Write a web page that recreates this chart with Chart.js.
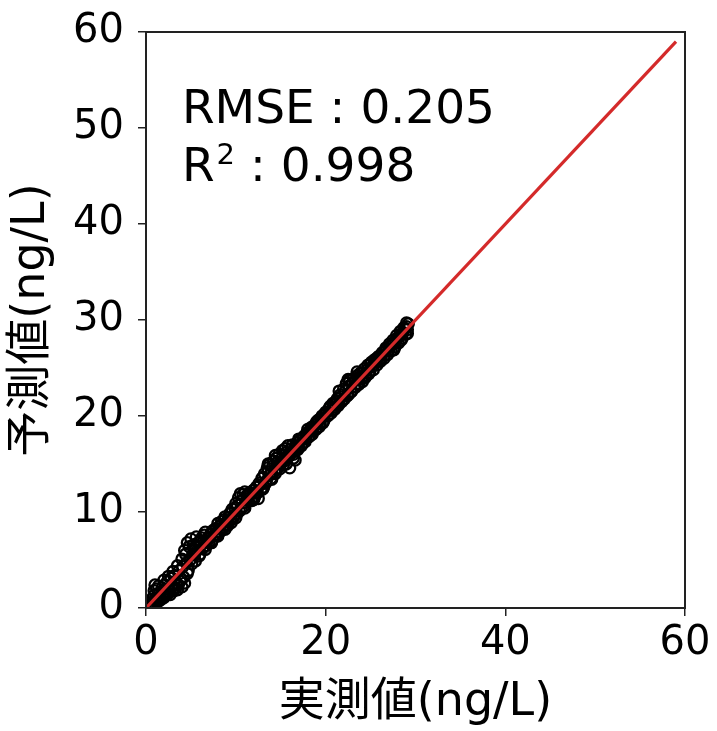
<!DOCTYPE html>
<html>
<head>
    <meta charset="utf-8">
    <title>予測値 vs 実測値</title>
    <script src="https://cdn.jsdelivr.net/npm/chart.js@4.4.1/dist/chart.umd.min.js"></script>
    <style>
        html, body { margin: 0; padding: 0; background: #fff; }
        #wrap { width: 717px; height: 731px; }
    </style>
</head>
<body>
<div id="wrap">
    <canvas id="grafico" width="717" height="731"></canvas>
</div>

<script>
    // 実測値 / 予測値 のペア
    var jissoku = [
        0.2, 0.3, 0.5, 0.6, 0.8, 0.9, 1.0, 1.1, 1.2, 1.3, 1.5, 1.6, 1.8, 1.9, 2.0,
        2.1, 2.3, 2.4, 2.6, 2.8, 2.9, 3.1, 3.2, 3.4, 3.5, 3.7, 3.8, 4.0, 4.1, 4.2, 4.4, 4.5, 4.6, 4.8, 4.9,
        5.0, 5.1, 5.3, 5.4, 5.6, 5.7, 5.9, 6.0, 6.2, 6.3, 6.5, 6.7, 6.9, 7.0, 7.2, 7.4, 7.6, 7.8, 7.9,
        8.1, 8.3, 8.5, 8.7, 8.9, 9.1, 9.3, 9.5, 9.6, 9.8, 10.0, 10.1, 10.3, 10.5, 10.6, 10.8, 11.0, 11.1, 11.3, 11.5, 11.7, 11.9, 12.1, 12.3, 12.5, 12.7,
        12.9, 13.1, 13.2, 13.4, 13.5, 13.7, 13.8, 14.0, 14.2, 14.3, 14.5, 14.7, 14.8, 15.0, 15.2, 15.3, 15.5, 15.7, 15.8, 16.0, 16.1, 16.3, 16.5, 16.6, 16.8, 17.0,
        17.2, 17.4, 17.6, 17.8, 18.0, 18.2, 18.4, 18.6, 18.8, 19.0, 19.2, 19.4, 19.6, 19.8, 20.0, 20.2, 20.4, 20.6, 20.8, 21.0,
        21.2, 21.4, 21.6, 21.8, 22.0, 22.1, 22.3, 22.5, 22.7, 22.9, 23.1, 23.3, 23.5, 23.7, 23.9, 24.1, 24.3, 24.5, 24.7, 24.9, 25.1, 25.3, 25.5, 25.7, 25.9,
        26.1, 26.3, 26.5, 26.7, 26.9, 27.1, 27.3, 27.5, 27.7, 27.9, 28.1, 28.3, 28.5, 28.7, 28.9, 29.0, 29.1,
        0.4, 0.7, 1.0, 1.4, 1.7, 2.2, 2.5, 2.7, 3.0, 3.3, 3.6, 3.9, 4.3, 4.7, 0.9, 1.4, 2.0, 2.5, 3.0, 3.5, 4.0, 4.3, 4.6,
        5.2, 5.5, 5.8, 6.1, 6.4, 6.6, 6.8, 7.1, 7.3, 7.5, 7.7, 8.0, 8.2, 8.4, 8.6, 8.8, 9.0, 9.2, 9.4, 9.7, 9.9, 5.5, 6.0, 6.6, 7.3, 8.0, 8.8, 9.5,
        10.2, 10.4, 10.7, 10.9, 11.2, 11.4, 11.6, 11.8, 12.0, 12.2, 12.4, 12.6, 12.8, 13.0, 13.3, 13.6, 13.9, 14.1, 14.4, 14.6, 14.9, 10.0, 11.0, 12.0, 13.0, 14.0, 13.6, 14.4,
        15.1, 15.4, 15.6, 15.9, 16.2, 16.4, 16.7, 16.9, 17.1, 17.3, 17.5, 17.7, 17.9, 18.1, 18.3, 18.5, 18.7, 18.9, 19.1, 19.3, 19.5, 19.7, 19.9, 15.6, 16.4, 17.0, 18.0, 19.0,
        20.1, 20.3, 20.5, 20.7, 20.9, 21.1, 21.3, 21.5, 21.7, 21.9, 22.2, 22.4, 22.6, 22.8, 23.0, 23.2, 23.4, 23.6, 23.8, 24.0, 24.2, 24.4, 24.6, 24.8, 25.0, 21.5, 22.5, 23.5,
        25.2, 25.4, 25.6, 25.8, 26.0, 26.2, 26.4, 26.6, 26.8, 27.0, 27.2, 27.4, 27.6, 27.8, 28.0, 28.2, 28.4, 28.6, 28.8, 29.0, 27.6, 28.4, 29.2, 29.1
    ];
    var yosoku = [
        0.1, 0.5, 0.4, 0.9, 0.6, 1.3, 2.4, 1.0, 2.0, 0.8, 1.6, 1.2, 2.1, 1.5, 1.1,
        2.4, 1.7, 2.8, 1.9, 3.1, 2.2, 1.8, 3.4, 2.6, 1.9, 3.9, 2.8, 2.2, 4.3, 3.2, 5.6, 4.7, 3.6, 6.4, 5.0,
        7.2, 4.6, 6.6, 5.5, 7.4, 6.0, 5.4, 6.9, 7.3, 6.2, 7.6, 6.5, 7.3, 6.8, 7.7, 7.1, 7.5, 8.3, 7.6,
        8.0, 8.6, 8.2, 9.2, 8.7, 8.6, 9.8, 9.2, 10.3, 9.6, 10.9, 9.8, 11.5, 11.9, 10.4, 11.8, 12.1, 11.0, 11.4, 12.0, 11.3, 12.2, 11.6, 12.6, 11.4, 12.8,
        13.5, 12.6, 14.0, 13.2, 14.6, 13.8, 15.0, 14.1, 15.3, 14.2, 15.6, 14.6, 16.0, 15.1, 16.4, 14.9, 16.6, 15.6, 16.9, 14.6, 16.2, 17.0, 16.3, 15.4, 17.2, 16.7,
        17.5, 17.1, 17.9, 17.6, 18.3, 17.9, 18.8, 18.4, 19.1, 18.7, 19.6, 19.2, 20.0, 19.5, 20.4, 20.0, 20.8, 20.3, 21.3, 20.7,
        21.6, 21.1, 22.2, 21.5, 22.8, 21.8, 23.4, 22.2, 23.7, 22.6, 23.9, 23.0, 24.2, 23.3, 24.5, 23.6, 24.9, 24.2, 25.3, 24.6, 25.6, 24.8, 25.9, 25.3, 26.2,
        25.7, 26.6, 26.0, 27.1, 26.4, 27.5, 26.8, 27.9, 27.2, 28.4, 27.6, 28.8, 28.1, 29.2, 28.5, 29.7, 29.0,
        0.0, 0.2, 0.4, 0.7, 0.9, 1.3, 1.5, 1.4, 2.0, 2.1, 2.4, 3.0, 2.6, 3.9, 1.8, 2.3, 2.9, 3.3, 3.8, 4.4, 5.1, 6.0, 6.8,
        5.6, 6.4, 6.8, 6.5, 7.0, 7.9, 7.0, 7.3, 7.9, 8.1, 7.6, 8.8, 7.9, 9.0, 8.4, 9.5, 9.0, 9.4, 9.9, 9.4, 10.4, 4.9, 5.6, 6.1, 6.8, 7.5, 8.2, 8.9,
        10.7, 10.1, 11.2, 10.6, 11.7, 11.2, 11.9, 11.2, 12.3, 12.0, 12.0, 13.0, 12.3, 13.6, 13.0, 14.2, 13.5, 14.8, 14.0, 15.2, 14.5, 9.4, 10.4, 11.3, 12.4, 13.4, 15.0, 15.9,
        15.6, 15.3, 16.2, 15.8, 16.6, 16.0, 16.9, 16.5, 17.4, 16.9, 17.7, 17.3, 18.2, 17.8, 18.5, 18.1, 18.9, 18.6, 19.4, 18.9, 19.8, 19.3, 20.2, 15.0, 15.6, 17.6, 18.6, 19.4,
        20.4, 20.1, 21.0, 20.6, 21.2, 20.9, 21.8, 21.3, 22.0, 21.7, 22.6, 22.1, 23.1, 22.5, 23.5, 23.1, 23.8, 23.4, 24.1, 23.9, 24.5, 24.0, 24.8, 24.4, 25.4, 22.6, 23.8, 24.6,
        25.2, 25.8, 25.6, 26.1, 25.9, 26.3, 26.6, 26.4, 27.0, 26.8, 27.3, 27.4, 27.6, 27.9, 28.1, 28.3, 28.5, 28.7, 29.1, 29.3, 26.9, 27.9, 29.6, 28.6
    ];
    // y = x の参照線
    var lineX = [0, 59];
    var lineY = [0, 59];
    var xTicks = [0, 20, 40, 60];
    var yTicks = [0, 10, 20, 30, 40, 50, 60];
    var rmseText = 'RMSE : 0.205';
    var r2Value = ' : 0.998';

    var points = jissoku.map(function (v, i) { return { x: v, y: yosoku[i] }; });
    var linePts = lineX.map(function (v, i) { return { x: v, y: lineY[i] }; });

    var fontMain = 'DejaVu Sans, "Noto Sans CJK JP", sans-serif';

    // 枠線と指標テキスト
    var framePlugin = {
        id: 'frame',
        afterDatasetsDraw: function (chart) {
            var a = chart.chartArea;
            var c = chart.ctx;
            c.save();
            c.strokeStyle = '#222';
            c.lineWidth = 2;
            c.strokeRect(a.left, a.top, a.right - a.left, a.bottom - a.top);

            var xs = chart.scales.x, ys = chart.scales.y;
            var tx = xs.getPixelForValue(4);
            c.fillStyle = '#000';
            c.font = '47px ' + fontMain;
            c.textBaseline = 'alphabetic';
            c.fillText(rmseText, tx, ys.getPixelForValue(50.5));

            // R の上付き 2
            var y2 = ys.getPixelForValue(44.5);
            c.fillText('R', tx, y2);
            var rw = c.measureText('R').width;
            c.font = '29px ' + fontMain;
            c.fillText('2', tx + rw + 2, y2 - 17);
            var sw = c.measureText('2').width;
            c.font = '47px ' + fontMain;
            c.fillText(r2Value, tx + rw + sw + 2, y2);
            c.restore();
        }
    };

    var ctx = document.getElementById('grafico').getContext('2d');
    var grafico = new Chart(ctx, {
        type: 'scatter',
        data: {
            datasets: [{
                type: 'line',
                data: linePts,
                borderColor: '#d42a2a',
                borderWidth: 3.2,
                pointRadius: 0,
                fill: false,
                order: 0
            }, {
                data: points,
                pointRadius: 5.5,
                pointBorderWidth: 2.3,
                pointBorderColor: '#000',
                pointBackgroundColor: 'rgba(0,0,0,0)',
                order: 1
            }]
        },
        options: {
            responsive: false,
            animation: false,
            events: [],
            layout: { padding: { top: 32, right: 32, left: 0, bottom: 0 } },
            plugins: {
                legend: { display: false },
                tooltip: { enabled: false }
            },
            scales: {
                x: {
                    type: 'linear',
                    min: 0,
                    max: 60,
                    afterBuildTicks: function (s) { s.ticks = xTicks.map(function (v) { return { value: v }; }); },
                    afterFit: function (s) { s.height = 123; },
                    grid: { drawOnChartArea: false, tickLength: 8, color: '#222', lineWidth: 1.5 },
                    border: { display: false },
                    ticks: { color: '#000', font: { family: fontMain, size: 40 }, padding: 4, maxRotation: 0, autoSkip: false },
                    title: { display: true, text: '実測値(ng/L)', color: '#000', font: { family: fontMain, size: 46 }, padding: 0 }
                },
                y: {
                    type: 'linear',
                    min: 0,
                    max: 60,
                    afterBuildTicks: function (s) { s.ticks = yTicks.map(function (v) { return { value: v }; }); },
                    afterFit: function (s) {
                        s.width = 146;
                        s.paddingTop = 0;
                        s.paddingBottom = 0;
                    },
                    grid: { drawOnChartArea: false, tickLength: 8, color: '#222', lineWidth: 1.5 },
                    border: { display: false },
                    ticks: { color: '#000', font: { family: fontMain, size: 40 }, padding: 14, autoSkip: false },
                    title: { display: true, text: '予測値(ng/L)', color: '#000', font: { family: fontMain, size: 46 }, padding: { top: 4, bottom: 0 } }
                }
            }
        },
        plugins: [framePlugin]
    });
</script>
</body>
</html>
